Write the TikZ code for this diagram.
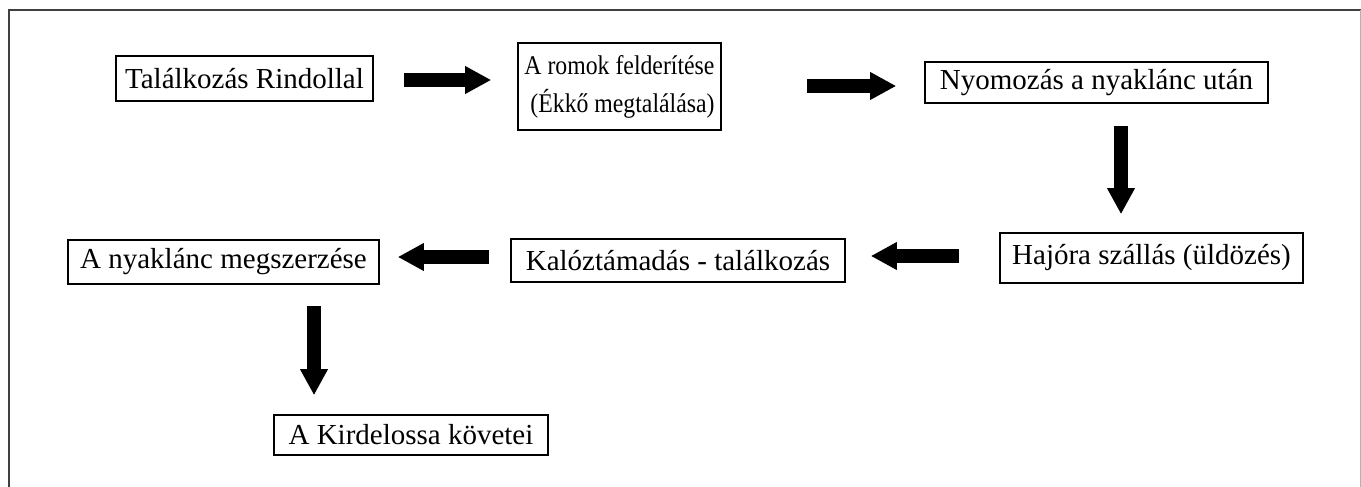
\documentclass[tikz,border=0pt]{standalone}
\usepackage{fontspec}
\setmainfont{Liberation Serif}
\newfontfamily\narrowserif[FakeStretch=0.88]{Liberation Serif}
\usetikzlibrary{arrows.meta,calc}
\begin{document}
\begin{tikzpicture}[x=1pt,y=-1pt,
  box/.style={draw=black,line width=1.6pt,inner sep=0pt,font=\fontsize{29}{34}\selectfont,align=center},
  bigarrow/.style={line width=14pt,-{Triangle[length=26pt,width=26pt]}}]
\useasboundingbox (0,0) rectangle (1361,487);
\fill[white] (0,0) rectangle (1361,487);
\draw[line width=2pt,black!75] (9,487) -- (9,10) -- (1361,10);
\draw[line width=1pt,black!30] (1360,10) -- (1360,487);
\node[box,minimum width=257pt,minimum height=45pt] (b1) at (244.5,78.5) {Találkozás Rindollal};
\node[box,minimum width=203pt,minimum height=87pt,align=right,font=\narrowserif\fontsize{27}{38}\selectfont] (b2) at (619.5,86.5) {A romok felderítése\\(Ékkő megtalálása)};
\node[box,minimum width=343pt,minimum height=41pt] (b3) at (1096.5,82.5) {Nyomozás a nyaklánc után};
\node[box,minimum width=303pt,minimum height=50pt] (b4) at (1151.5,258) {Hajóra szállás (üldözés)};
\node[box,minimum width=334pt,minimum height=43pt] (b5) at (678,260.5) {Kalóztámadás - találkozás};
\node[box,minimum width=311pt,minimum height=44pt] (b6) at (223.5,262) {A nyaklánc megszerzése};
\node[box,minimum width=274pt,minimum height=40pt] (b7) at (411,435) {A Kirdelossa követei};
\draw[bigarrow] ($(b1.east)+(30,1.5)$) -- ($(b2.west)+(-26,-6.5)$);
\draw[bigarrow] ($(b2.east)+(85,-0.5)$) -- ($(b3.west)+(-28,3.5)$);
\draw[bigarrow] ($(b3.south)+(24.5,22)$) -- ($(b4.north)+(-30.5,-18)$);
\draw[bigarrow] ($(b4.west)+(-40,-2)$) -- ($(b5.east)+(25,-4.5)$);
\draw[bigarrow] ($(b5.west)+(-21,-3.5)$) -- ($(b6.east)+(18,-5)$);
\draw[bigarrow] ($(b6.south)+(90.5,21)$) -- ($(b7.north)+(-97,-19)$);
\end{tikzpicture}
\end{document}
